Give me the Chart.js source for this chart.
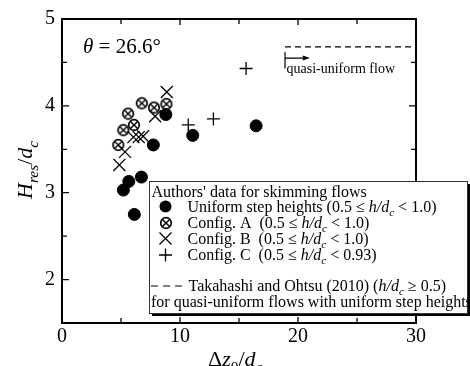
<!DOCTYPE html>
<html>
<head>
<meta charset="utf-8">
<script src="https://cdn.jsdelivr.net/npm/chart.js@4/dist/chart.umd.min.js"></script>
<style>
  html, body { margin: 0; padding: 0; background: #fff; }
  #wrap { width: 470px; height: 366px; position: relative; }
</style>
</head>
<body>
<div id="wrap"><canvas id="c" width="470" height="366"></canvas></div>
<script>
// Authors' data (x = Δz0/dc, y = Hres/dc)
const uniformX = [5.2, 5.66, 6.13, 6.73, 7.74, 8.8, 11.08, 16.45];
const uniformY = [3.03, 3.13, 2.75, 3.18, 3.55, 3.9, 3.66, 3.77];
const configAX = [4.77, 5.2, 5.6, 6.1, 6.76, 7.8, 8.85];
const configAY = [3.55, 3.72, 3.91, 3.78, 4.03, 3.98, 4.02];
const configBX = [4.86, 5.34, 6.05, 6.5, 6.87, 7.89, 8.88];
const configBY = [3.32, 3.47, 3.64, 3.64, 3.65, 3.88, 4.16];
const configCX = [10.7, 12.83, 15.6];
const configCY = [3.78, 3.85, 4.43];
// Takahashi and Ohtsu (2010), quasi-uniform flow
const takahashiX = [18.9, 30];
const takahashiY = [4.68, 4.68];
const quasiStartX = 18.9;
const quasiArrowEndX = 21.0;

const xMajorTicks = [0, 10, 20, 30];
const xMinorTicks = [5, 15, 25];
const yMajorTicks = [2, 3, 4, 5];
const yMinorTicks = [2.5, 3.5, 4.5];

const SERIF = '"Liberation Serif", "Times New Roman", serif';
const toPts = (xs, ys) => xs.map((x, i) => ({ x, y: ys[i] }));

// circled-x marker for Config. A
function circledX(r) {
    const c = document.createElement('canvas');
    const s = 14;
    c.width = s; c.height = s;
    const g = c.getContext('2d');
    const m = s / 2;
    g.strokeStyle = '#000';
    g.lineWidth = 1.7;
    g.beginPath(); g.arc(m, m, r, 0, Math.PI * 2); g.stroke();
    const d = r * 0.68;
    g.lineWidth = 1.4;
    g.beginPath();
    g.moveTo(m - d, m - d); g.lineTo(m + d, m + d);
    g.moveTo(m + d, m - d); g.lineTo(m - d, m + d);
    g.stroke();
    return c;
}
const markA = circledX(5.3);

// rich text: segments {t, i: italic, s: subscript}
function drawRich(ctx, x, y, segs, size) {
    ctx.save();
    ctx.textBaseline = 'alphabetic';
    ctx.textAlign = 'left';
    for (const sg of segs) {
        const fs = sg.s ? size * 0.7 : size;
        ctx.font = (sg.i ? 'italic ' : '') + fs + 'px ' + SERIF;
        ctx.fillText(sg.t, x, y + (sg.s ? size * 0.25 : 0));
        x += ctx.measureText(sg.t).width;
    }
    ctx.restore();
    return x;
}

const hdc = (pre, post) => [{ t: pre }, { t: 'h/d', i: true }, { t: 'c', i: true, s: true }, { t: post }];

const framePlugin = {
    id: 'frame',
    beforeDatasetsDraw(chart) {
        const { ctx, chartArea: a, scales: { x, y } } = chart;
        ctx.save();
        ctx.strokeStyle = '#000';
        ctx.lineWidth = 2;
        ctx.strokeRect(a.left, a.top, a.right - a.left, a.bottom - a.top);
        ctx.lineWidth = 1.3;
        ctx.beginPath();
        const xt = (v, len) => {
            const p = x.getPixelForValue(v);
            ctx.moveTo(p, a.bottom); ctx.lineTo(p, a.bottom - len);
            ctx.moveTo(p, a.top); ctx.lineTo(p, a.top + len);
        };
        const yt = (v, len) => {
            const p = y.getPixelForValue(v);
            ctx.moveTo(a.left, p); ctx.lineTo(a.left + len, p);
            ctx.moveTo(a.right, p); ctx.lineTo(a.right - len, p);
        };
        xMajorTicks.forEach(v => xt(v, 6));
        xMinorTicks.forEach(v => xt(v, 5));
        yMajorTicks.forEach(v => yt(v, 7));
        yMinorTicks.forEach(v => yt(v, 5));
        ctx.stroke();
        ctx.restore();
    },
    afterDraw(chart) {
        const { ctx, scales: { x, y } } = chart;
        ctx.save();
        ctx.fillStyle = '#000';
        ctx.strokeStyle = '#000';

        // theta label
        drawRich(ctx, 83, 53, [{ t: 'θ', i: true }, { t: ' = 26.6°' }], 21);

        // quasi-uniform flow marker
        const qx = x.getPixelForValue(quasiStartX);
        const qe = x.getPixelForValue(quasiArrowEndX);
        const qy = y.getPixelForValue(4.55);
        ctx.lineWidth = 1.2;
        ctx.beginPath();
        ctx.moveTo(qx, y.getPixelForValue(4.62)); ctx.lineTo(qx, y.getPixelForValue(4.43));
        ctx.moveTo(qx, qy); ctx.lineTo(qe - 5, qy);
        ctx.stroke();
        ctx.beginPath();
        ctx.moveTo(qe, qy); ctx.lineTo(qe - 7, qy - 2.5); ctx.lineTo(qe - 7, qy + 2.5);
        ctx.closePath(); ctx.fill();
        ctx.font = '14px ' + SERIF;
        ctx.fillText('quasi-uniform flow', qx + 1.5, 73);

        // axis titles
        drawRich(ctx, 208, 366, [{ t: 'Δ' }, { t: 'z', i: true }, { t: '0', s: true }, { t: '/' }, { t: 'd', i: true }, { t: 'c', i: true, s: true }], 22);
        ctx.save();
        ctx.translate(32, 199);
        ctx.rotate(-Math.PI / 2);
        drawRich(ctx, 0, 0, [{ t: 'H', i: true }, { t: 'res', i: true, s: true }, { t: '/' }, { t: 'd', i: true }, { t: 'c', i: true, s: true }], 22);
        ctx.restore();

        // legend box with shadow
        const bx = 149, by = 181, bw = 318, bh = 132;
        ctx.fillStyle = '#000';
        ctx.fillRect(bx + 3, by + 3, bw, bh);
        ctx.fillStyle = '#fff';
        ctx.fillRect(bx, by, bw, bh);
        ctx.strokeStyle = '#333';
        ctx.lineWidth = 1;
        ctx.strokeRect(bx + 0.5, by + 0.5, bw, bh);

        ctx.fillStyle = '#000';
        ctx.strokeStyle = '#000';
        const fs = 16;
        drawRich(ctx, 151.5, 197, [{ t: "Authors' data for skimming flows" }], fs);
        const sx = 165.5, tx0 = 187.5;
        // uniform
        ctx.beginPath(); ctx.arc(sx, 206.5, 6, 0, Math.PI * 2); ctx.fill();
        drawRich(ctx, tx0, 212, hdc('Uniform step heights (0.5 ≤ ', ' < 1.0)'), fs);
        // config A
        ctx.drawImage(markA, Math.round(sx - markA.width / 2), Math.round(222.5 - markA.height / 2));
        drawRich(ctx, tx0, 228, hdc('Config. A  (0.5 ≤ ', ' < 1.0)'), fs);
        // config B
        ctx.lineWidth = 1.3;
        ctx.beginPath();
        ctx.moveTo(sx - 6, 232.5); ctx.lineTo(sx + 6, 244.5);
        ctx.moveTo(sx + 6, 232.5); ctx.lineTo(sx - 6, 244.5);
        ctx.stroke();
        drawRich(ctx, tx0, 244, hdc('Config. B  (0.5 ≤ ', ' < 1.0)'), fs);
        // config C
        ctx.beginPath();
        ctx.moveTo(sx - 6.5, 255); ctx.lineTo(sx + 6.5, 255);
        ctx.moveTo(sx, 248.5); ctx.lineTo(sx, 261.5);
        ctx.stroke();
        drawRich(ctx, tx0, 260, hdc('Config. C  (0.5 ≤ ', ' < 0.93)'), fs);
        // Takahashi
        ctx.lineWidth = 1.2;
        ctx.setLineDash([7, 5]);
        ctx.beginPath(); ctx.moveTo(151, 286); ctx.lineTo(184, 286); ctx.stroke();
        ctx.setLineDash([]);
        drawRich(ctx, 188.5, 291, [{ t: 'Takahashi and Ohtsu (2010) (' }, { t: 'h/d', i: true }, { t: 'c', i: true, s: true }, { t: ' ≥ 0.5)' }], fs);
        drawRich(ctx, 151, 307, [{ t: 'for quasi-uniform flows with uniform step heights' }], fs);
        ctx.restore();
    }
};

new Chart(document.getElementById('c'), {
    type: 'scatter',
    data: {
        datasets: [
            {
                label: 'Uniform step heights',
                data: toPts(uniformX, uniformY),
                pointStyle: 'circle',
                pointRadius: 6,
                backgroundColor: '#000',
                borderColor: '#000',
            },
            {
                label: 'Config. A',
                data: toPts(configAX, configAY),
                pointStyle: markA,
            },
            {
                label: 'Config. B',
                data: toPts(configBX, configBY),
                pointStyle: 'crossRot',
                pointRadius: 8.5,
                borderColor: '#000',
                borderWidth: 1.3,
            },
            {
                label: 'Config. C',
                data: toPts(configCX, configCY),
                pointStyle: 'cross',
                pointRadius: 6.5,
                borderColor: '#000',
                borderWidth: 1.3,
            },
            {
                label: 'Takahashi and Ohtsu (2010)',
                data: toPts(takahashiX, takahashiY),
                showLine: true,
                pointRadius: 0,
                borderColor: '#000',
                borderWidth: 1.2,
                borderDash: [6, 4],
            },
        ],
    },
    options: {
        responsive: false,
        animation: false,
        events: [],
        layout: { padding: { left: 0, top: 18, right: 54, bottom: 0 } },
        plugins: { legend: { display: false }, tooltip: { enabled: false } },
        scales: {
            x: {
                type: 'linear',
                min: 0, max: 30,
                grid: { display: false, drawTicks: false },
                border: { display: false },
                afterBuildTicks: (s) => { s.ticks = xMajorTicks.map(v => ({ value: v })); },
                afterFit: (s) => { s.height = 43; },
                ticks: { padding: 2, color: '#000', font: { family: SERIF, size: 20 }, maxRotation: 0 },
            },
            y: {
                type: 'linear',
                min: 1.5, max: 5,
                grid: { display: false, drawTicks: false },
                border: { display: false },
                afterBuildTicks: (s) => { s.ticks = yMajorTicks.map(v => ({ value: v })); },
                afterFit: (s) => { s.width = 62; },
                ticks: { padding: 7, color: '#000', font: { family: SERIF, size: 20 } },
            },
        },
    },
    plugins: [framePlugin],
});
</script>
</body>
</html>
